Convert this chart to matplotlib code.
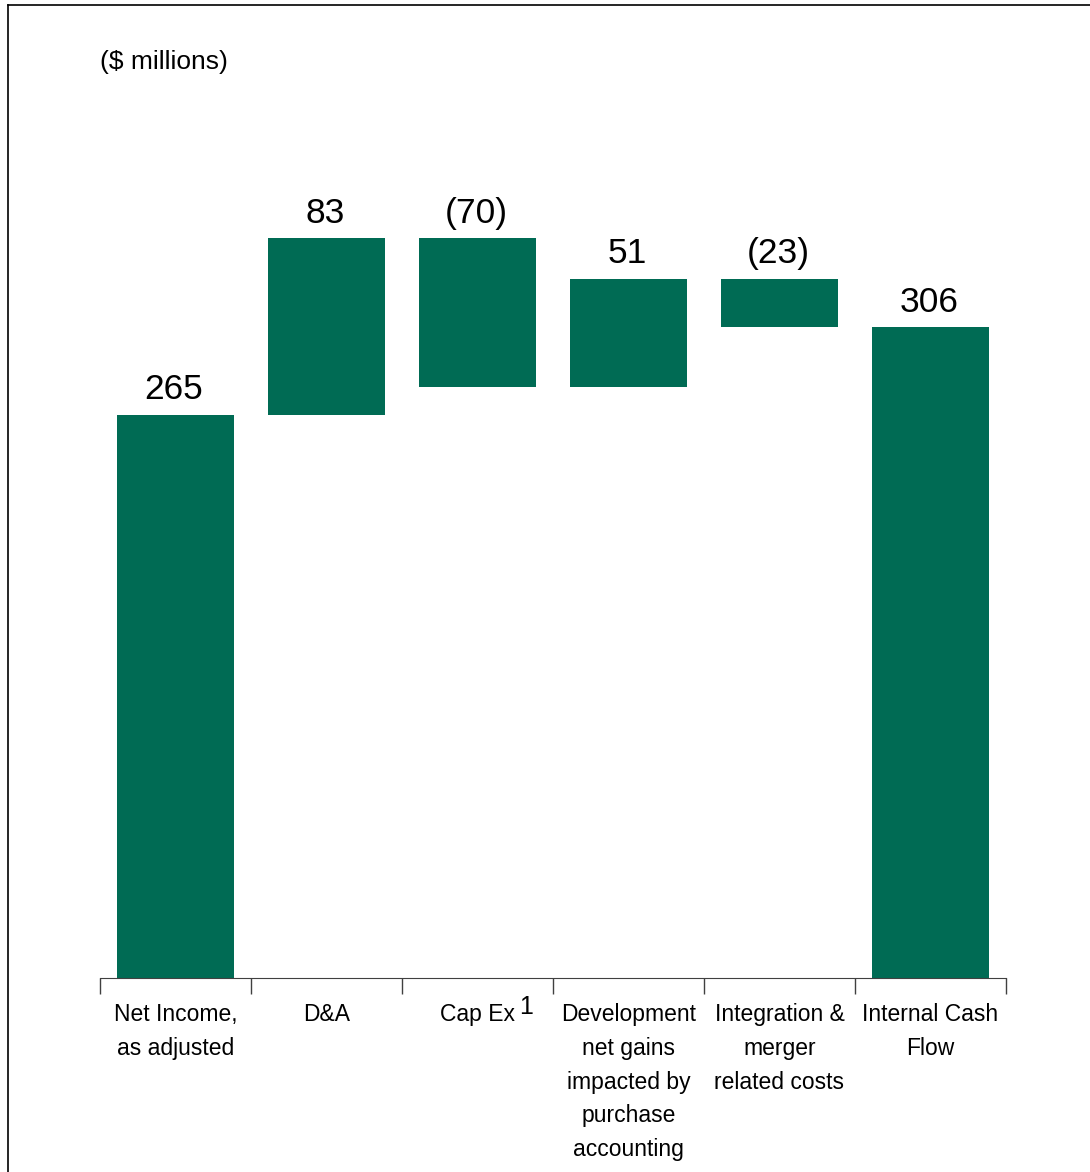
import matplotlib.pyplot as plt
from matplotlib.lines import Line2D

plt.rcParams['font.family'] = ['Liberation Sans', 'DejaVu Sans']

# dados da cascata
categorias = ['Net Income,\nas adjusted', 'D&A', 'Cap Ex',
              'Development\nnet gains\nimpacted by\npurchase\naccounting',
              'Integration &\nmerger\nrelated costs', 'Internal Cash\nFlow']
valores = [265, 83, -70, 51, -23, 306]
e_total = [True, False, False, False, False, True]

verde = '#006B54'

fig = plt.figure(figsize=(10.9, 11.72), dpi=100)
ax = fig.add_axes([100 / 1090, 194 / 1172, 906 / 1090, 440 * 2.126 / 1172])

# calcular base e altura de cada barra
acumulado = 0
bases, alturas, topos = [], [], []
for v, tot in zip(valores, e_total):
    if tot:
        bases.append(0)
        alturas.append(v)
        acumulado = v
    else:
        novo = acumulado + v
        bases.append(min(acumulado, novo))
        alturas.append(abs(v))
        acumulado = novo
    topos.append(bases[-1] + alturas[-1])

pos = list(range(len(valores)))
ax.bar(pos, alturas, bottom=bases, width=0.775, color=verde)

for x, v, t in zip(pos, valores, topos):
    rotulo = f'({abs(v)})' if v < 0 else str(v)
    ax.annotate(rotulo, xy=(x, t), xytext=(-1, 6), textcoords='offset points',
                ha='center', va='bottom', fontsize=25.5)

ax.set_xlim(-0.5, 5.5)
ax.set_ylim(0, 440)

for s in ['top', 'right', 'left']:
    ax.spines[s].set_visible(False)
ax.spines['bottom'].set_color('#404040')
ax.set_yticks([])

ax.set_xticks([p - 0.5 for p in pos] + [5.5])
ax.set_xticklabels([])
ax.tick_params(axis='x', length=11.5, width=1, color='#404040')
ax.set_xticks(pos, minor=True)
ax.set_xticklabels(categorias, minor=True, fontsize=16.5, linespacing=1.6, va='top')
ax.tick_params(axis='x', which='minor', length=0, pad=18)

# nota de rodape do Cap Ex
ax.annotate('1', xy=(2, 0), xycoords=('data', 'axes fraction'),
            xytext=(35, -21), textcoords='offset points',
            ha='center', va='center', fontsize=18)

fig.text(100 / 1090, 1 - 62 / 1172, '($ millions)', fontsize=19, va='center', ha='left')

# moldura
fig.add_artist(Line2D([8 / 1090, 8 / 1090], [0, 1 - 5 / 1172], color='black', lw=1.2))
fig.add_artist(Line2D([8 / 1090, 1], [1 - 5 / 1172, 1 - 5 / 1172], color='black', lw=1.2))

plt.savefig('out.png', dpi=100)
